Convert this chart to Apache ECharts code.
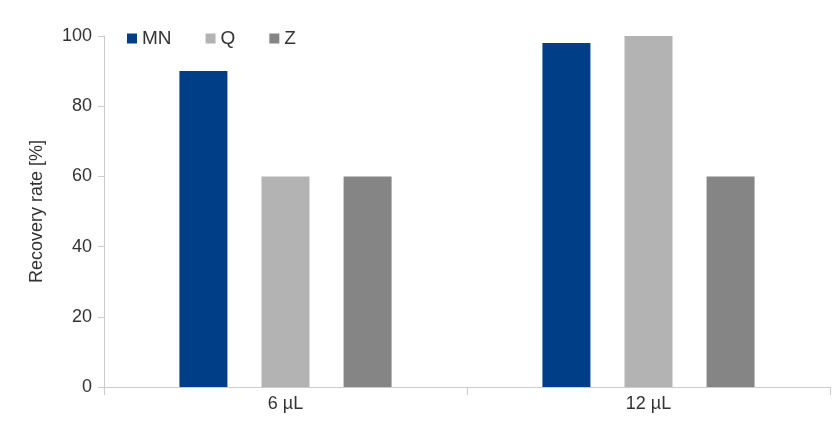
<!DOCTYPE html>
<html><head><meta charset="utf-8">
<script src="https://cdn.jsdelivr.net/npm/echarts@6/dist/echarts.min.js"></script>
<style>html,body{margin:0;padding:0;background:#fff}#main{width:835px;height:422px}</style>
</head><body><div id="main"></div>
<script>
var categories = ["6 µL", "12 µL"];
var mn = [90, 98];
var q = [60, 100];
var z = [60, 60];

var chart = echarts.init(document.getElementById("main"));
var lbl = { color: "#333", fontSize: 18, fontFamily: "Liberation Sans" };
chart.setOption({
  animation: false,
  grid: { left: 104, right: 5, top: 36, bottom: 35 },
  legend: {
    left: 122, top: 24, itemWidth: 10, itemHeight: 10, itemGap: 34,
    icon: "rect",
    textStyle: { color: "#333", fontSize: 19, fontFamily: "Liberation Sans" }
  },
  xAxis: {
    type: "category", data: categories,
    axisLine: { lineStyle: { color: "#ccc" } },
    axisTick: { show: true, length: 8, lineStyle: { color: "#ccc" } },
    axisLabel: lbl
  },
  yAxis: {
    type: "value", min: 0, max: 100, interval: 20,
    name: "Recovery rate [%]", nameLocation: "middle", nameGap: 58,
    nameTextStyle: { color: "#333", fontSize: 18, fontFamily: "Liberation Sans" },
    axisLine: { show: true, lineStyle: { color: "#ccc" } },
    axisTick: { show: true, length: 6, lineStyle: { color: "#ccc" } },
    splitLine: { show: false },
    axisLabel: Object.assign({ margin: 12 }, lbl)
  },
  series: [
    { name: "MN", type: "bar", data: mn, barWidth: 48, barGap: "71%", itemStyle: { color: "#003f87" } },
    { name: "Q", type: "bar", data: q, barWidth: 48, itemStyle: { color: "#b3b3b3" } },
    { name: "Z", type: "bar", data: z, barWidth: 48, itemStyle: { color: "#858585" } }
  ]
});
</script></body></html>
